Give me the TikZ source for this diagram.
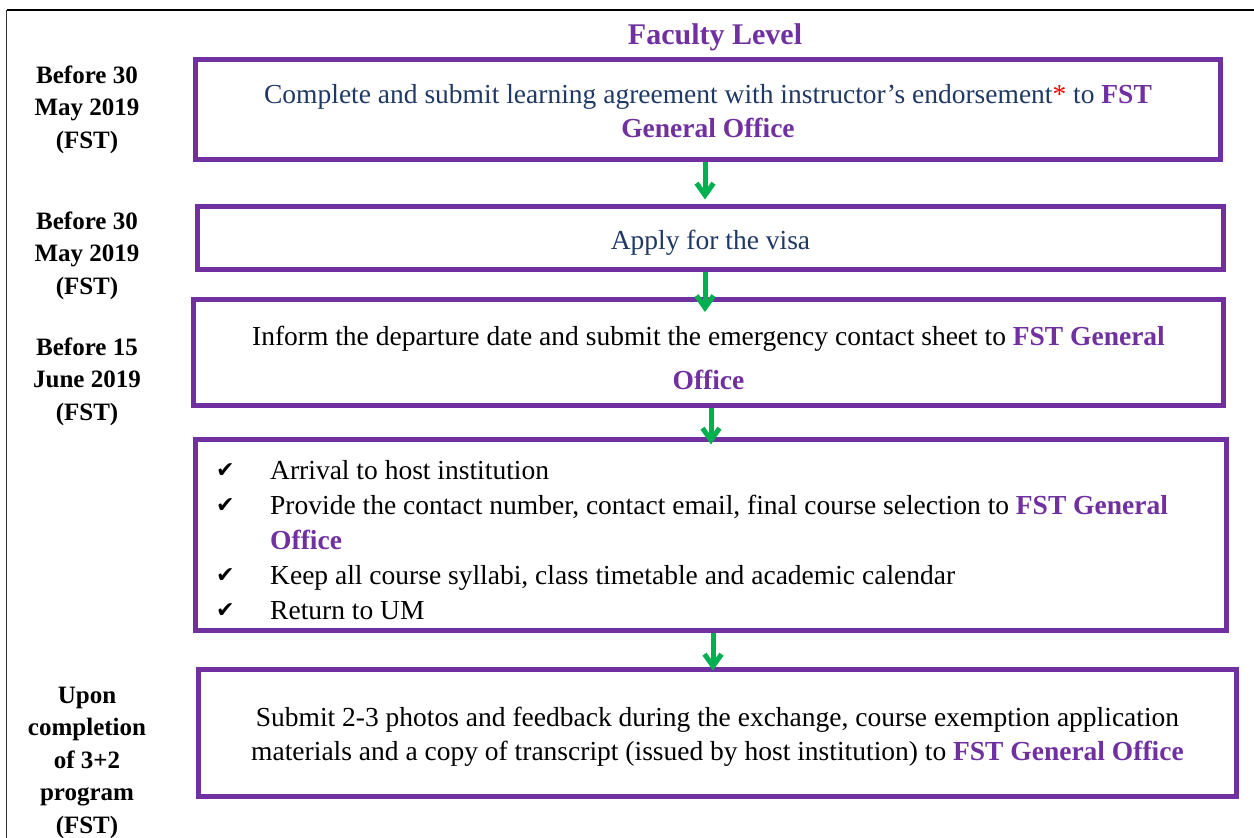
\documentclass[tikz,border=0pt]{standalone}
\usepackage{fontspec}
\setmainfont{Liberation Serif}
\newfontfamily\symfont{DejaVu Sans}
\usetikzlibrary{arrows.meta}
\definecolor{fstpurple}{HTML}{7030A0}
\definecolor{navytext}{HTML}{1F3864}
\definecolor{arrgreen}{HTML}{00B050}
\newcommand\hlp[1]{\textbf{\color{fstpurple}#1}}
\newcommand\chk{\makebox[54pt][l]{\raisebox{2pt}{\fontsize{22}{22}\symfont ✔}}}
\tikzset{
  stagebox/.style={draw=fstpurple, line width=5pt, inner sep=0pt},
  stagetext/.style={align=center, inner sep=0pt, font=\fontsize{27.5}{34}\selectfont},
  datelabel/.style={align=center, anchor=base, inner sep=0pt,
    font=\fontsize{25}{32.5}\selectfont\bfseries},
  flowarrow/.style={draw=arrgreen, line width=5pt,
    -{Straight Barb[length=12pt,width=17pt]}},
}
\begin{document}
\begin{tikzpicture}[x=1pt,y=-1pt]
\useasboundingbox (0,0) rectangle (1254,838);
% frame
\draw[line width=2pt] (1254,10) -- (6.5,10);
\draw[line width=1.3pt, black!80] (6.5,10) -- (6.5,838);
% title
\node[anchor=base, inner sep=0pt, text=fstpurple, font=\fontsize{30}{36}\selectfont\bfseries] (title) at (715,44) {Faculty Level};
% date labels (base = last line)
\node[datelabel] (lab1) at (87,148) {Before 30\\May 2019\\(FST)};
\node[datelabel] (lab2) at (87,294) {Before 30\\May 2019\\(FST)};
\node[datelabel] (lab3) at (87,420) {Before 15\\June 2019\\(FST)};
\node[datelabel] (lab4) at (87,833) {Upon\\completion\\of 3+2\\program\\(FST)};
% boxes
\node[stagebox, minimum width=1025pt, minimum height=100pt] (b1) at (708,109.5) {};
\node[stagetext, text=navytext] (b1t) at ([yshift=-2pt]b1.center)
  {Complete and submit learning agreement with instructor’s endorsement{\color{red}*} to \hlp{FST}\\\hlp{General Office}};
\node[stagebox, minimum width=1026pt, minimum height=62.5pt] (b2) at (710.5,237.75) {};
\node[stagetext, text=navytext] (b2t) at ([yshift=-5pt]b2.center) {Apply for the visa};
\node[stagebox, minimum width=1030pt, minimum height=106pt] (b3) at (708.5,352.5) {};
\node[stagetext] (b3t) at ([yshift=-5pt]b3.center)
  {Inform the departure date and submit the emergency contact sheet to \hlp{FST General}\\[10pt]\hlp{Office}};
\node[stagebox, minimum width=1031pt, minimum height=191pt] (b4) at (711,535) {};
\node[anchor=north west, align=left, inner sep=0pt, font=\fontsize{27.5}{35}\selectfont] (b4t) at (216,460)
  {\chk Arrival to host institution\\
   \chk Provide the contact number, contact email, final course selection to \hlp{FST General}\\
   \hspace*{54pt}\hlp{Office}\\
   \chk Keep all course syllabi, class timetable and academic calendar\\
   \chk Return to UM};
\node[stagebox, minimum width=1038pt, minimum height=127pt] (b5) at (717.5,733) {};
\node[stagetext] (b5t) at ([yshift=-4pt]b5.center)
  {Submit 2-3 photos and feedback during the exchange, course exemption application\\
   materials and a copy of transcript (issued by host institution) to \hlp{FST General Office}};
% arrows
\draw[flowarrow] ([xshift=-3pt]b1.south) -- ([xshift=-3pt,yshift=4.5pt]b1.south |- b2.north);
\draw[flowarrow] ([xshift=-5.5pt]b2.south) -- ([xshift=-5.5pt,yshift=-15pt]b2.south |- b3.north);
\draw[flowarrow] ([xshift=2.5pt]b3.south) -- ([xshift=2.5pt,yshift=-7.5pt]b3.south |- b4.north);
\draw[flowarrow] ([xshift=2pt]b4.south) -- ([xshift=2pt,yshift=-3.5pt]b4.south |- b5.north);
\end{tikzpicture}
\end{document}
